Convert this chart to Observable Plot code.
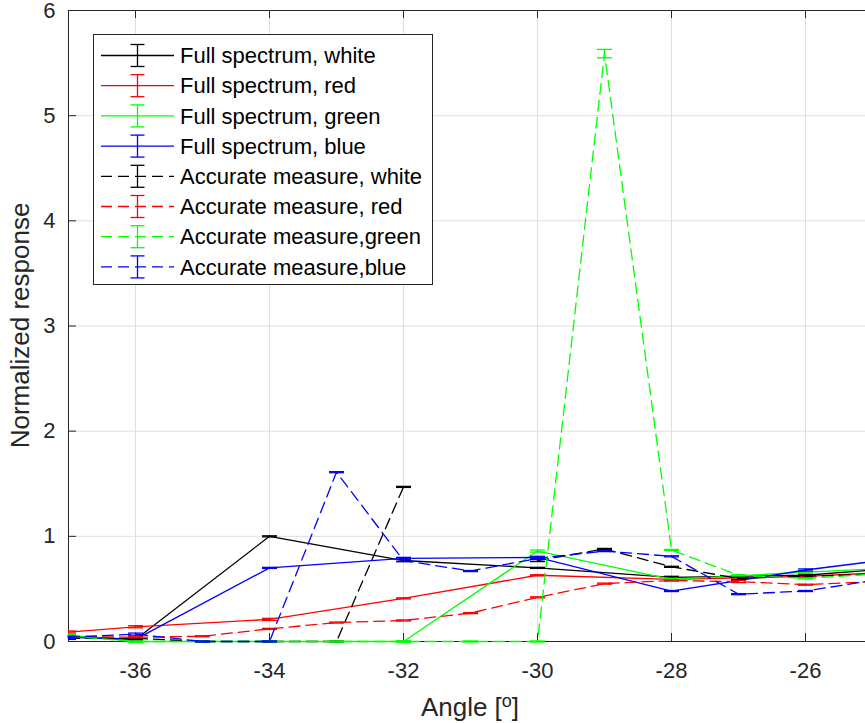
<!DOCTYPE html>
<html><head><meta charset="utf-8">
<script src="https://cdn.jsdelivr.net/npm/d3@7"></script>
<script src="https://cdn.jsdelivr.net/npm/@observablehq/plot@0.6"></script>
<style>
html,body{margin:0;padding:0;background:#fff;overflow:hidden;}
#wrap{width:865px;height:723px;overflow:hidden;position:relative;}
#wrap svg{max-width:none !important;height:723px !important;width:872px !important;display:block;}
</style></head><body><div id="wrap"></div>
<script>
// x positions
const accX  = [-37,-36,-35,-34,-33,-32,-31,-30,-29,-28,-27,-26,-25];
const fullX = [-37,-36,-34,-32,-30,-28,-26,-25];

// Full spectrum series (at fullX)
const fullWhite = [0.05, 0.02, 1.00, 0.77, 0.70, 0.61, 0.63, 0.68];
const fullRed   = [0.09, 0.14, 0.21, 0.41, 0.63, 0.59, 0.62, 0.65];
const fullGreen = [0.06, 0.00, 0.00, 0.00, 0.86, 0.59, 0.66, 0.69];
const fullBlue  = [0.04, 0.02, 0.70, 0.79, 0.80, 0.48, 0.68, 0.76];
const fullWhiteErr = [0.01, 0.01, 0.005, 0.01, 0.005, 0.01, 0.01, 0.01];
const fullRedErr   = [0.01, 0.01, 0.01, 0.005, 0.005, 0.01, 0.01, 0.01];
const fullGreenErr = [0.01, 0.005, 0.005, 0.005, 0.01, 0.01, 0.01, 0.01];
const fullBlueErr  = [0.01, 0.005, 0.005, 0.01, 0.01, 0.005, 0.01, 0.01];

// Accurate measure series (at accX); null = no value
const accWhite = [0.03, 0.03, 0.00, 0.00, 0.00, 1.47, null, 0.77, 0.88, 0.71, 0.60, 0.62, 0.64];
const accRed   = [0.05, 0.04, 0.05, 0.12, 0.18, 0.20, 0.27, 0.42, 0.55, 0.58, 0.57, 0.54, 0.57];
const accGreen = [0.05, 0.00, 0.00, 0.00, 0.00, 0.00, 0.00, 0.00, 5.59, 0.87, 0.63, 0.60, 0.64];
const accBlue  = [0.04, 0.07, 0.00, 0.00, 1.61, 0.77, 0.67, 0.79, 0.86, 0.81, 0.45, 0.48, 0.58];
const accWhiteErr = [0.01, 0.01, 0.005, 0.005, 0.005, 0.005, null, 0.01, 0.005, 0.005, 0.01, 0.01, 0.01];
const accRedErr   = [0.005, 0.005, 0.005, 0.005, 0.005, 0.005, 0.005, 0.005, 0.005, 0.005, 0.01, 0.005, 0.01];
const accGreenErr = [0.01, 0.005, 0.005, 0.005, 0.005, 0.005, 0.005, 0.005, 0.04, 0.005, 0.005, 0.005, 0.01];
const accBlueErr  = [0.01, 0.01, 0.005, 0.005, 0.005, 0.01, 0.005, 0.01, 0.005, 0.005, 0.005, 0.005, 0.01];

const seriesNames = [
  "Full spectrum, white", "Full spectrum, red", "Full spectrum, green", "Full spectrum, blue",
  "Accurate measure, white", "Accurate measure, red", "Accurate measure,green", "Accurate measure,blue"
];
const seriesColors = ["#000000", "#ff0000", "#00ff00", "#0000ff", "#000000", "#ff0000", "#00ff00", "#0000ff"];
const seriesDashed = [false, false, false, false, true, true, true, true];

const xTicks = [-36, -34, -32, -30, -28, -26];
const yTicks = [0, 1, 2, 3, 4, 5, 6];
const xLabel = "Angle [";
const xLabelSup = "o";
const xLabelEnd = "]";
const yLabel = "Normalized response";

const seriesX = [fullX, fullX, fullX, fullX, accX, accX, accX, accX];
const seriesY = [fullWhite, fullRed, fullGreen, fullBlue, accWhite, accRed, accGreen, accBlue];
const seriesE = [fullWhiteErr, fullRedErr, fullGreenErr, fullBlueErr, accWhiteErr, accRedErr, accGreenErr, accBlueErr];

const DASH = "11,6";
const LW = 1.3;
const capSymbol = {
  draw(ctx, size) {
    const w = Math.sqrt(size / Math.PI);
    ctx.moveTo(-w, 0); ctx.lineTo(w, 0);
  }
};

const W = 872, H = 723;
const mL = 68, mR = 0, mT = 10, mB = 82;
const plotH = H - mT - mB, plotW = W - mL - mR;

const marks = [
  Plot.gridX(xTicks, {stroke: "#dfdfdf", strokeOpacity: 1}),
  Plot.gridY(yTicks, {stroke: "#dfdfdf", strokeOpacity: 1}),
  Plot.frame({stroke: "#262626", strokeWidth: 1}),
  Plot.tickX(xTicks, {x: d => d, stroke: "#262626", insetTop: plotH - 8}),
  Plot.tickX(xTicks, {x: d => d, stroke: "#262626", insetBottom: plotH - 8}),
  Plot.tickY(yTicks, {y: d => d, stroke: "#262626", insetRight: plotW - 8}),
  Plot.axisX({ticks: xTicks, tickSize: 0, tickPadding: 21, fontSize: 22, tickFormat: d => String(d), label: null}),
  Plot.axisY({ticks: yTicks, tickSize: 0, tickPadding: 13, fontSize: 22, tickFormat: d => String(d), label: null})
];

for (let s = 0; s < 8; s++) {
  const data = seriesX[s].map((x, i) => ({x, y: seriesY[s][i], e: seriesE[s][i]}));
  const pts = data.filter(d => d.y != null);
  const color = seriesColors[s];
  marks.push(Plot.line(data, {x: "x", y: "y", stroke: color, strokeWidth: LW,
    strokeDasharray: seriesDashed[s] ? DASH : null}));
  marks.push(Plot.ruleX(pts, {x: "x", y1: d => d.y - d.e, y2: d => d.y + d.e, stroke: color, strokeWidth: LW}));
  marks.push(Plot.dot(pts, {x: "x", y: d => d.y + d.e, symbol: capSymbol, r: 7.5, stroke: color, strokeWidth: LW, fill: "none", clip: true}));
  marks.push(Plot.dot(pts, {x: "x", y: d => d.y - d.e, symbol: capSymbol, r: 7.5, stroke: color, strokeWidth: LW, fill: "none", clip: true}));
}

const chart = Plot.plot({
  width: W, height: H,
  marginLeft: mL, marginRight: mR, marginTop: mT, marginBottom: mB,
  x: {domain: [-37, -25], label: null},
  y: {domain: [0, 6], label: null},
  style: {fontFamily: "'Liberation Sans', Arial, Helvetica, sans-serif", color: "#262626", background: "#fff", maxWidth: "none"},
  marks
});
chart.style.maxWidth = "none";
document.getElementById("wrap").appendChild(chart);

const svg = d3.select(chart);
// clip caps only horizontally
svg.selectAll("clipPath rect").attr("y", 0).attr("height", H);

// Axis labels
const xl = svg.append("text").attr("x", 470).attr("y", 716).attr("text-anchor", "middle")
  .attr("font-size", 26).attr("fill", "#262626");
xl.append("tspan").text(xLabel);
xl.append("tspan").attr("font-size", 18).attr("dy", -9).text(xLabelSup);
xl.append("tspan").attr("dy", 9).text(xLabelEnd);
svg.append("text").attr("transform", "translate(29,325.5) rotate(-90)").attr("text-anchor", "middle")
  .attr("font-size", 26).attr("fill", "#262626").text(yLabel);

// Legend
const lg = svg.append("g").attr("text-anchor", "start");
lg.append("rect").attr("x", 93.5).attr("y", 34.5).attr("width", 339).attr("height", 250)
  .attr("fill", "#fff").attr("stroke", "#262626").attr("stroke-width", 1);
seriesNames.forEach((name, i) => {
  const cy = 55.5 + i * 30.2;
  const c = seriesColors[i];
  lg.append("line").attr("x1", 101).attr("x2", 174).attr("y1", cy).attr("y2", cy)
    .attr("stroke", c).attr("stroke-width", LW).attr("stroke-dasharray", seriesDashed[i] ? DASH : null);
  lg.append("line").attr("x1", 137.5).attr("x2", 137.5).attr("y1", cy - 11).attr("y2", cy + 11)
    .attr("stroke", c).attr("stroke-width", LW);
  [cy - 11, cy + 11].forEach(yy => lg.append("line").attr("x1", 130.5).attr("x2", 144.5)
    .attr("y1", yy).attr("y2", yy).attr("stroke", c).attr("stroke-width", LW));
  lg.append("text").attr("x", 180).attr("y", cy).attr("dy", "0.35em").attr("font-size", 22)
    .attr("text-anchor", "start").attr("fill", "#000").text(name);
});
</script></body></html>
